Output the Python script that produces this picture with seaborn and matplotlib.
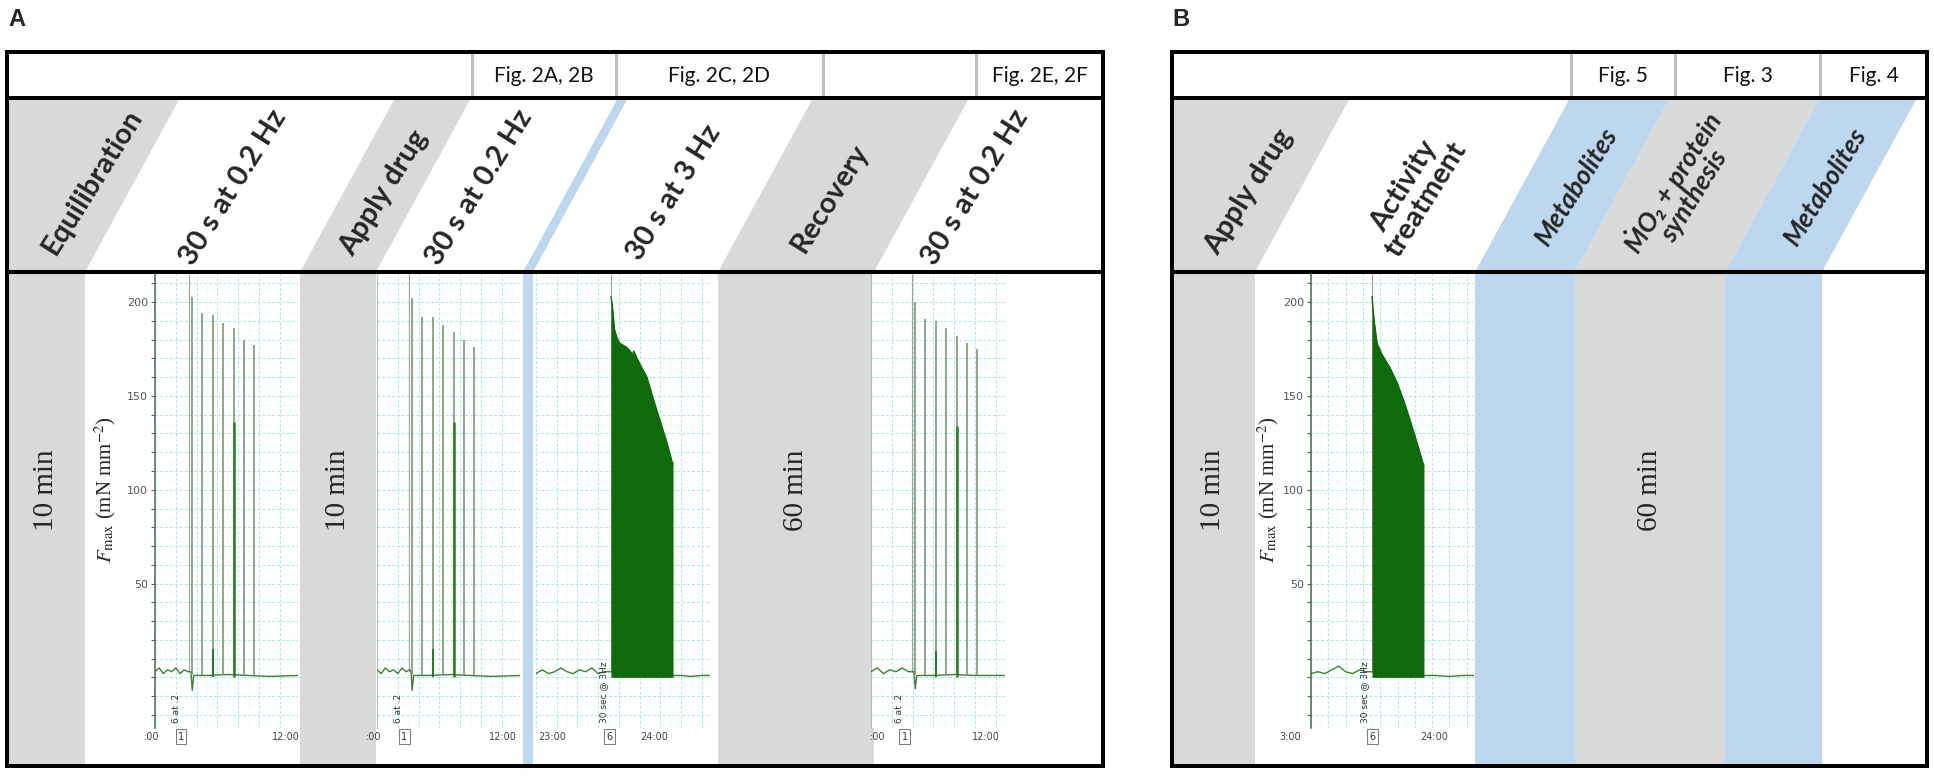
import numpy as np
import pandas as pd
import matplotlib
matplotlib.use("Agg")
import matplotlib.pyplot as plt
import matplotlib.transforms as mtransforms
from matplotlib.patches import Polygon, Rectangle
import seaborn as sns

# ---------------- data ----------------
panel_letters = ["A", "B"]
header_A = ["", "Fig. 2A, 2B", "Fig. 2C, 2D", "", "Fig. 2E, 2F"]
header_B = ["", "Fig. 5", "Fig. 3", "Fig. 4"]
phases_A = ["Equilibration", "30 s at 0.2 Hz", "Apply drug", "30 s at 0.2 Hz",
            "30 s at 3 Hz", "Recovery", "30 s at 0.2 Hz"]
phases_B = ["Apply drug", "Activity\ntreatment", "Metabolites",
            "ṀO₂ + protein\nsynthesis", "Metabolites"]
phases_B_italic = [False, False, True, True, True]
durations_A = ["10 min", "10 min", "60 min"]
durations_B = ["10 min", "60 min"]

force_ticks = [50, 100, 150, 200]
force_label = r"$F_{\rm max}$ (mN mm$^{-2}$)"

# 0.2 Hz twitch trains: time (s) and peak force (mN mm-2)
twitch_t_pre = [17.8, 22.8, 27.8, 32.8, 37.8, 42.8, 47.8]
twitch_f_pre = [203, 194, 193, 189, 186, 180, 177]
twitch_t_drug = [16.8, 21.8, 26.8, 31.8, 36.8, 41.8, 46.8]
twitch_f_drug = [202, 192, 192, 188, 184, 180, 176]
twitch_t_rec = [21.2, 26.2, 31.2, 36.2, 41.2, 46.2, 51.2]
twitch_f_rec = [200, 191, 190, 186, 182, 178, 175]
twitch_overlay_f = [136, 136, 134]          # darker overlapping twitch (5th)
twitch_small_f = [15, 15, 14]               # small artefact twitch (3rd)

# baselines (time s, force)
base_t_pre = [0, 2, 4, 6, 8, 10, 12, 14, 16.0, 17.3, 17.9, 18.6, 25, 35, 45, 55, 68.7]
base_f_pre = [3, 5, 2, 4, 3, 5, 2, 4, 3, 3, -7, 1, 1, 1.5, 1, 0.5, 1]
base_t_drug = [0, 2, 4, 6, 8, 10, 12, 14, 15.6, 16.4, 16.9, 17.6, 25, 35, 45, 55, 68.7]
base_f_drug = [4, 2, 5, 3, 4, 2, 5, 3, 4, 3, -7, 1, 1, 1.5, 1, 0.5, 1]
base_t_rec = [0, 3, 6, 9, 12, 15, 18, 20.6, 21.3, 22, 30, 40, 50, 64.4]
base_f_rec = [3, 5, 2, 4, 3, 5, 3, 3, -6, 1, 1, 1.5, 1, 1]
base_t_tetA = [0, 3, 6, 9, 12, 15, 18, 21, 24, 27, 30, 33, 36.1, 66.4, 70, 75, 80, 84]
base_f_tetA = [2, 4, 2, 3, 5, 3, 2, 4, 3, 5, 2, 3, 3, 1, 1, 0.5, 1, 1]
base_t_tetB = [0, 4, 8, 12, 16, 20, 24, 28, 32, 35.2, 65.5, 72, 80, 88, 94]
base_f_tetB = [2, 3, 2, 4, 6, 3, 2, 4, 3, 3, 1, 1, 0.5, 1, 1]

# 3 Hz tetanic envelopes (time from onset s, force)
tet_A_t = [0, 0.3, 1.0, 1.6, 2.9, 4.3, 6.0, 7.5, 9.2, 10.5, 11.0, 12.6, 14.0,
           17.4, 20.3, 23.7, 27.1, 29.5, 30.0]
tet_A_f = [203, 201, 195, 186, 181, 178, 177, 176, 174, 172, 174, 170, 167,
           160, 149, 137, 125, 115, 114]
tet_A_onset = 36.2
tet_B_t = [0, 0.4, 1.2, 2.9, 5.8, 10.4, 14.5, 18.5, 22.0, 26.0, 29.5, 30.0]
tet_B_f = [203, 198, 190, 178, 172, 165, 157, 147, 137, 125, 114, 113]
tet_B_onset = 35.3

# recorder annotations
time_labels = {
    "pre": [(-1.5, ":00"), (63.0, "12:00")],
    "drug": [(-1.5, ":00"), (60.6, "12:00")],
    "tetA": [(7.7, "23:00"), (57.0, "24:00")],
    "rec": [(3.4, ":00"), (55.3, "12:00")],
    "tetB": [(-12.0, "3:00"), (71.1, "24:00")],
}
comment_box = {"pre": (12.5, "1"), "drug": (13.0, "1"), "tetA": (35.7, "6"),
               "rec": (16.3, "1"), "tetB": (35.3, "6")}
comment_text = {"pre": (10.1, "6 at .2"), "drug": (10.1, "6 at .2"),
                "tetA": (32.9, "30 sec @ 3Hz"), "rec": (13.5, "6 at .2"),
                "tetB": (31.2, "30 sec @ 3Hz")}
marker_t = {"pre": 16.3, "drug": 15.4, "rec": 19.7, "tetA": 36.2, "tetB": 35.3}

# ---------------- style / layout ----------------
sns.set_theme(style="white")
plt.rcParams["font.family"] = ["Lato", "DejaVu Sans"]
plt.rcParams["mathtext.fontset"] = "stix"

GREY = "#d9d9d9"
BLUE = "#bdd7ee"
DIV = "#bfbfbf"
TWITCH = "#6f8f66"
DARKG = "#2c7a22"
TET = "#0f6a0c"
BASE = "#3f7f34"

FIG_W, FIG_H = 1934, 778
BOX_TOP, HEAD_BOT, MID_BOT, BOX_BOT = 52, 98, 272, 766
A_X = (7, 1103)
B_X = (1172, 1927)
SLANT = 95
BORDER_LW = 2.9

fig = plt.figure(figsize=(FIG_W / 100, FIG_H / 100), dpi=100)
bg = fig.add_axes([0, 0, 1, 1])
bg.set_xlim(0, FIG_W)
bg.set_ylim(FIG_H, 0)
bg.axis("off")

cells_A = [7, 472, 616, 823, 976, 1103]
cells_B = [1172, 1571, 1675, 1820, 1927]
bands_A = [(7, 85, GREY), (300, 376, GREY), (523, 533, BLUE), (718, 874, GREY)]
bands_B = [(1172, 1255, GREY), (1475, 1575, BLUE), (1575, 1725, GREY), (1725, 1822, BLUE)]
phase_pos_A = [(92, 182), (233, 187), (384, 193), (479, 187), (674, 193), (830, 198), (975, 187)]
phase_pos_B = [(1249, 192), (1415, 193), (1577, 186), (1682, 188), (1826, 186)]
dur_pos_A = [46, 338, 796]
dur_pos_B = [1213, 1650]
DUR_Y = 490


def draw_panel(px, cells, headers, bands):
    clip = Rectangle((px[0], HEAD_BOT), px[1] - px[0], MID_BOT - HEAD_BOT,
                     transform=bg.transData, fc="none", ec="none")
    bg.add_patch(clip)
    for x0, x1, col in bands:
        bg.add_patch(Rectangle((x0, MID_BOT), x1 - x0, BOX_BOT - MID_BOT,
                               fc=col, ec="none", zorder=1))
        top_left = px[0] if x0 <= px[0] else x0 + SLANT
        poly = Polygon([(x0, MID_BOT), (x1, MID_BOT), (x1 + SLANT, HEAD_BOT),
                        (top_left, HEAD_BOT)], closed=True, fc=col, ec="none", zorder=1)
        bg.add_patch(poly)
        poly.set_clip_path(clip)
    for xe in cells[1:-1]:
        bg.plot([xe, xe], [BOX_TOP, HEAD_BOT], color=DIV, lw=2.2, zorder=3,
                solid_capstyle="butt")
    for i, lab in enumerate(headers):
        if lab:
            bg.text((cells[i] + cells[i + 1]) / 2, (BOX_TOP + HEAD_BOT) / 2 + 1, lab,
                    ha="center", va="center", fontsize=15, color="#111", zorder=4)
    bg.add_patch(Rectangle((px[0], BOX_TOP), px[1] - px[0], BOX_BOT - BOX_TOP,
                           fc="none", ec="black", lw=BORDER_LW, zorder=6))
    for yy in (HEAD_BOT, MID_BOT):
        bg.plot([px[0], px[1]], [yy, yy], color="black", lw=BORDER_LW, zorder=6)


draw_panel(A_X, cells_A, header_A, bands_A)
draw_panel(B_X, cells_B, header_B, bands_B)

bg.text(8, 8, panel_letters[0], ha="left", va="top", fontsize=17, fontweight="bold",
        family=["Liberation Sans", "DejaVu Sans"])
bg.text(1172, 8, panel_letters[1], ha="left", va="top", fontsize=17, fontweight="bold",
        family=["Liberation Sans", "DejaVu Sans"])

for (x, y), lab in zip(phase_pos_A, phases_A):
    bg.text(x, y, lab, rotation=58, rotation_mode="anchor", ha="center", va="center",
            fontsize=21, fontweight="bold", zorder=4, linespacing=1.0)
for (x, y), lab, it in zip(phase_pos_B, phases_B, phases_B_italic):
    bg.text(x, y, lab, rotation=58, rotation_mode="anchor", ha="center", va="center",
            fontsize=19 if it else 21, fontweight="bold",
            fontstyle="italic" if it else "normal", zorder=4, linespacing=1.0,
            multialignment="center")

for x, lab in zip(dur_pos_A, durations_A):
    bg.text(x, DUR_Y, lab, rotation=90, ha="center", va="center", fontsize=21,
            family=["Liberation Serif", "DejaVu Serif"], zorder=4)
for x, lab in zip(dur_pos_B, durations_B):
    bg.text(x, DUR_Y, lab, rotation=90, ha="center", va="center", fontsize=21,
            family=["Liberation Serif", "DejaVu Serif"], zorder=4)

bg.text(105, DUR_Y, force_label, rotation=90, ha="center", va="center", fontsize=15,
        family=["Liberation Serif", "DejaVu Serif"], zorder=4)
bg.text(1268, DUR_Y, force_label, rotation=90, ha="center", va="center", fontsize=15,
        family=["Liberation Serif", "DejaVu Serif"], zorder=4)

# ---------------- trace axes ----------------
TR_TOP, TR_BOT = 274, 728
YLIM = (-27, 215)


def add_px_axes(x0, x1):
    return fig.add_axes([x0 / FIG_W, 1 - TR_BOT / FIG_H, (x1 - x0) / FIG_W,
                         (TR_BOT - TR_TOP) / FIG_H])


def style_trace(ax, xmax, axis_mode):
    ax.set_xlim(0, xmax)
    ax.set_ylim(*YLIM)
    ax.set_facecolor("white")
    ax.set_axisbelow(True)
    ax.set_xticks(np.arange(0, xmax, 10))
    ax.set_xticks(np.arange(5, xmax, 10), minor=True)
    yt = np.arange(-20, 215, 10)
    ax.set_yticks(yt)
    ax.set_yticks(np.arange(-25, 215, 10), minor=True)
    ax.grid(which="major", color="#a6eaea", ls=(0, (3, 2)), lw=0.7)
    ax.grid(which="minor", color="#d6f7f7", ls=(0, (1, 2)), lw=0.6)
    for s in ax.spines.values():
        s.set_visible(False)
    ax.tick_params(axis="x", which="both", length=0, labelbottom=False)
    if axis_mode == "full":
        ax.spines["left"].set_visible(True)
        ax.spines["left"].set_color("#4a6a4a")
        ax.spines["left"].set_linewidth(1.1)
        ax.set_yticklabels([str(v) if v in force_ticks else "" for v in yt])
        ax.tick_params(axis="y", which="major", length=3, width=0.8, color="#4a6a4a",
                       labelsize=8, labelcolor="#555555", pad=2, left=True)
        ax.tick_params(axis="y", which="minor", length=0)
        for lab in ax.get_yticklabels():
            lab.set_family(["DejaVu Sans"])
    else:
        if axis_mode == "light":
            ax.spines["left"].set_visible(True)
            ax.spines["left"].set_color("#b0c0b0")
            ax.spines["left"].set_linewidth(0.8)
        ax.tick_params(axis="y", which="both", length=0, labelleft=False)
    ax.set_xlabel("")
    ax.set_ylabel("")


def annotate_trace(ax, key):
    trans = mtransforms.blended_transform_factory(ax.transData, ax.transAxes)
    for t, lab in time_labels[key]:
        ax.text(t, -0.008, lab, transform=trans, ha="center", va="top", fontsize=7,
                color="#444444", clip_on=False, family=["DejaVu Sans"])
    t, lab = comment_box[key]
    ax.text(t, -0.008, lab, transform=trans, ha="center", va="top", fontsize=7,
            color="#333333", clip_on=False, family=["DejaVu Sans"],
            bbox=dict(boxstyle="square,pad=0.25", fc="white", ec="#777777", lw=0.7))
    t, lab = comment_text[key]
    ax.text(t, 0.012, lab, transform=trans, rotation=90, ha="center", va="bottom",
            fontsize=6.5, color="#333333", clip_on=False, family=["DejaVu Sans"])
    ax.vlines(marker_t[key], 3, YLIM[1], color="#a0a0a0", lw=0.8, zorder=2)


def twitch_trace(ax, key, bt, bf, tt, tf, idx):
    sns.lineplot(x=bt, y=bf, ax=ax, color=BASE, lw=1.0, estimator=None, sort=False,
                 legend=False, zorder=3)
    ax.vlines(tt, 1, tf, color=TWITCH, lw=1.1, zorder=3)
    ax.vlines(tt[4], 0, twitch_overlay_f[idx], color=DARKG, lw=1.8, zorder=4)
    ax.vlines(tt[2], 0, twitch_small_f[idx], color=DARKG, lw=1.5, zorder=4)
    annotate_trace(ax, key)


def tetanus_trace(ax, key, bt, bf, onset, et, ef):
    sns.lineplot(x=bt, y=bf, ax=ax, color=BASE, lw=1.0, estimator=None, sort=False,
                 legend=False, zorder=3)
    t_abs = np.array(et) + onset
    ax.fill_between(t_abs, 0, ef, color=TET, lw=0, zorder=4)
    sns.lineplot(x=t_abs, y=ef, ax=ax, color=TET, lw=1.0, estimator=None, sort=False,
                 legend=False, zorder=4)
    annotate_trace(ax, key)


ax1 = add_px_axes(155, 298)
style_trace(ax1, (298 - 155) / 2.08, "full")
twitch_trace(ax1, "pre", base_t_pre, base_f_pre, twitch_t_pre, twitch_f_pre, 0)

ax2 = add_px_axes(377, 520)
style_trace(ax2, (520 - 377) / 2.08, "light")
twitch_trace(ax2, "drug", base_t_drug, base_f_drug, twitch_t_drug, twitch_f_drug, 1)

ax3 = add_px_axes(536, 710)
style_trace(ax3, (710 - 536) / 2.07, "none")
tetanus_trace(ax3, "tetA", base_t_tetA, base_f_tetA, tet_A_onset, tet_A_t, tet_A_f)

ax4 = add_px_axes(871, 1005)
style_trace(ax4, (1005 - 871) / 2.08, "light")
twitch_trace(ax4, "rec", base_t_rec, base_f_rec, twitch_t_rec, twitch_f_rec, 2)

ax5 = add_px_axes(1311, 1474)
style_trace(ax5, (1474 - 1311) / 1.73, "full")
tetanus_trace(ax5, "tetB", base_t_tetB, base_f_tetB, tet_B_onset, tet_B_t, tet_B_f)

fig.savefig("out.png", dpi=100, facecolor="white")
